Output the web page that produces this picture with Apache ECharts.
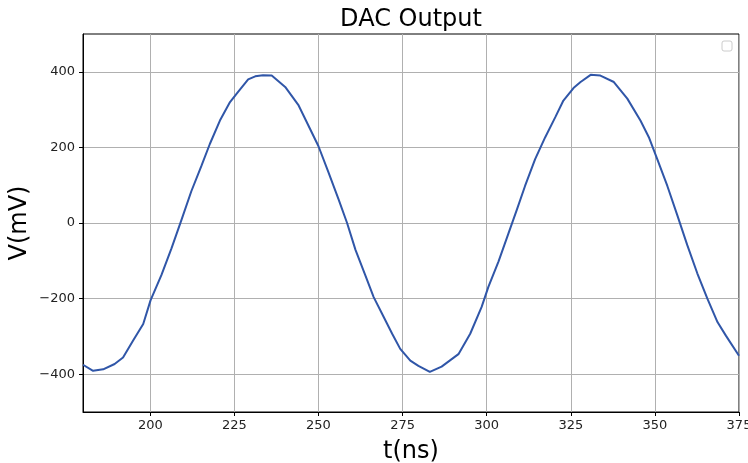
<!DOCTYPE html>
<html>
<head>
<meta charset="utf-8">
<script src="https://cdn.jsdelivr.net/npm/echarts@6/dist/echarts.min.js"></script>
<style>
  html, body { margin: 0; padding: 0; background: #fff; }
  #chart { width: 748px; height: 463px; }
</style>
</head>
<body>
<div id="chart"></div>
<script>
// DAC output samples
var times = [180, 183, 186, 189.4, 191.9, 194.9, 197.9, 200.1, 203.3, 206.3, 209.3, 212.2, 215.2, 217.7, 220.7, 223.7, 226.1, 229.1, 231.2, 233.5, 236.1, 240.1, 244.1, 247, 250, 253, 256, 258.5, 261, 263.9, 266.4, 268.9, 271.9, 274.3, 277.3, 279.7, 283.1, 286.6, 291.6, 295.1, 298.5, 300.5, 303.5, 306.5, 309, 311.4, 314.4, 317.4, 320.4, 322.8, 325.8, 327.9, 330.9, 333.8, 337.8, 341.8, 345.7, 348.2, 350.7, 353.7, 356.6, 359.6, 362.6, 365.6, 368.6, 371.1, 375];
var volts = [-375, -391, -387, -373, -356, -311, -267, -204, -138, -67, 9, 84, 151, 209, 271, 320, 347, 380, 388, 391, 390, 360, 311, 258, 203, 133, 62, 0, -71, -138, -196, -240, -293, -333, -364, -378, -394, -380, -347, -293, -222, -169, -102, -27, 36, 98, 169, 227, 280, 324, 357, 373, 392, 390, 373, 329, 271, 227, 169, 98, 22, -58, -133, -200, -262, -298, -351];

var xTicks = [200, 225, 250, 275, 300, 325, 350, 375];
var yTicks = [-400, -200, 0, 200, 400];

var pts = [];
for (var i = 0; i < times.length; i++) {
  pts.push([times[i], volts[i]]);
}

var font = 'DejaVu Sans';
var chart = echarts.init(document.getElementById('chart'));

function minus(v) {
  return String(v).replace('-', '\u2212');
}

var option = {
  backgroundColor: '#ffffff',
  animation: false,
  grid: {
    left: 83, right: 9, top: 34, bottom: 51,
    outerBoundsMode: 'none', containLabel: false,
    show: true, borderColor: '#000', borderWidth: 1
  },
  graphic: [
    {
      type: 'text', x: 411, y: 8,
      style: { text: 'DAC Output', font: '24px "DejaVu Sans"', fill: '#000', textAlign: 'center', textVerticalAlign: 'top' }
    },
    {
      type: 'rect', shape: { x: 722, y: 41, width: 10, height: 10, r: 2 },
      style: { fill: '#fff', stroke: '#cccccc', lineWidth: 1 }
    }
  ],
  xAxis: {
    type: 'value', min: 180, max: 375,
    name: 't(ns)', nameLocation: 'middle', nameGap: 28, nameMoveOverlap: false,
    nameTextStyle: { fontFamily: font, fontSize: 24, color: '#000' },
    axisLine: { show: true, onZero: false, lineStyle: { color: '#000', width: 1 } },
    axisTick: { show: true, length: 4, lineStyle: { color: '#000' }, customValues: xTicks },
    axisLabel: { fontFamily: font, fontSize: 13, color: '#222', margin: 7, customValues: xTicks },
    splitLine: { show: true, lineStyle: { color: '#b0b0b0', width: 1 } }
  },
  yAxis: {
    type: 'value', min: -500, max: 500,
    name: 'V(mV)', nameLocation: 'middle', nameGap: 51, nameMoveOverlap: false,
    nameTextStyle: { fontFamily: font, fontSize: 24, color: '#000' },
    axisLine: { show: true, onZero: false, lineStyle: { color: '#000', width: 1 } },
    axisTick: { show: true, length: 4, lineStyle: { color: '#000' }, customValues: yTicks },
    axisLabel: { fontFamily: font, fontSize: 13, color: '#222', margin: 8, customValues: yTicks, formatter: minus },
    splitLine: { show: true, lineStyle: { color: '#b0b0b0', width: 1 } }
  },
  series: [{
    type: 'line',
    data: pts,
    showSymbol: false,
    smooth: false,
    clip: true,
    lineStyle: { color: '#3056a8', width: 2 }
  }]
};

chart.setOption(option);
</script>
</body>
</html>
